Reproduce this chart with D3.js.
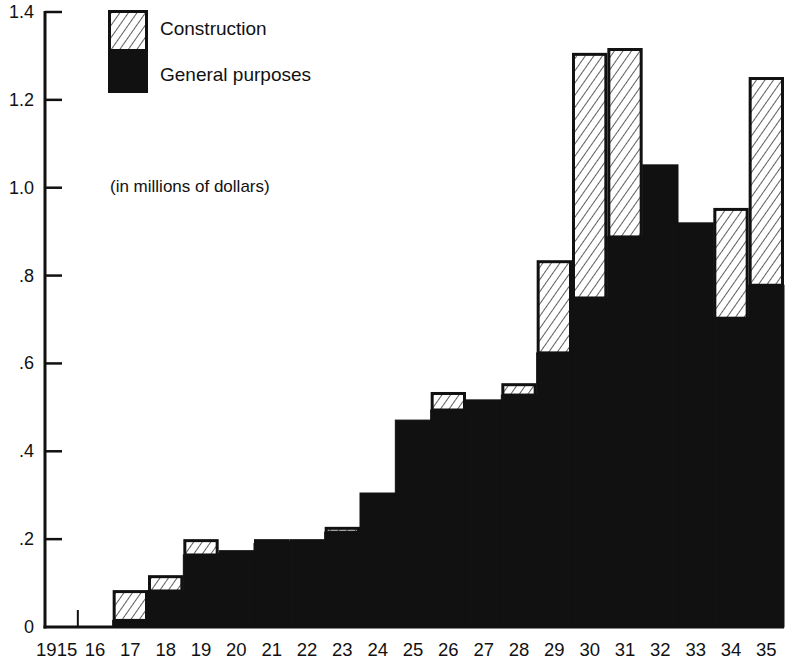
<!DOCTYPE html>
<html lang="en">
  <head>
    <meta charset="UTF-8" />
    <title>Chart</title>
    <style>
      body { margin: 0; background: #fff; }
      text { font-family: Arial, "Liberation Sans", sans-serif; fill: #111; }
    </style>
  </head>
  <body>
    <svg width="786" height="663"></svg>
    <script src="https://cdnjs.cloudflare.com/ajax/libs/d3/7.8.5/d3.min.js"></script>
    <script>
      // values, millions of dollars
      var years = [1915, 1916, 1917, 1918, 1919, 1920, 1921, 1922, 1923, 1924, 1925,
        1926, 1927, 1928, 1929, 1930, 1931, 1932, 1933, 1934, 1935];
      var yearLabels = ["1915", "16", "17", "18", "19", "20", "21", "22", "23", "24", "25",
        "26", "27", "28", "29", "30", "31", "32", "33", "34", "35"];
      var general = [0, 0, 0.015, 0.082, 0.164, 0.168, 0.19, 0.195, 0.216, 0.305, 0.471,
        0.494, 0.517, 0.528, 0.624, 0.749, 0.888, 1.052, 0.92, 0.703, 0.778];
      var construction = [0, 0, 0.069, 0.036, 0.036, 0.007, 0.01, 0.005, 0.012, 0, 0,
        0.041, 0, 0.027, 0.211, 0.558, 0.43, 0, 0, 0.251, 0.474];
      var yTicks = [0, 0.2, 0.4, 0.6, 0.8, 1.0, 1.2, 1.4];
      var yTickLabels = ["0", ".2", ".4", ".6", ".8", "1.0", "1.2", "1.4"];

      var svg = d3.select("svg");

      var x = d3.scaleBand().domain(years).range([42, 784]).padding(0);
      var y = d3.scaleLinear().domain([0, 1.4]).range([627, 12]);

      var defs = svg.append("defs");
      defs.append("pattern")
        .attr("id", "hatch")
        .attr("patternUnits", "userSpaceOnUse")
        .attr("width", 7)
        .attr("height", 7)
        .attr("patternTransform", "rotate(35)")
        .call(function (p) {
          p.append("rect").attr("width", 7).attr("height", 7).attr("fill", "#fff");
          p.append("line")
            .attr("x1", 0).attr("y1", 0).attr("x2", 0).attr("y2", 7)
            .attr("stroke", "#1a1a1a").attr("stroke-width", 1.4);
        });

      var data = years.map(function (yr, i) {
        return { year: yr, label: yearLabels[i], g: general[i], c: construction[i] };
      });

      var bars = svg.append("g");

      // general purposes (solid)
      bars.selectAll("rect.gen")
        .data(data.filter(function (d) { return d.g > 0; }))
        .enter()
        .append("rect")
        .attr("class", "gen")
        .attr("x", function (d) { return x(d.year); })
        .attr("width", x.bandwidth())
        .attr("y", function (d) { return y(d.g); })
        .attr("height", function (d) { return y(0) - y(d.g); })
        .attr("fill", "#111")
        .attr("stroke", "#111")
        .attr("stroke-width", 1);

      // construction (hatched, outlined)
      bars.selectAll("rect.con")
        .data(data.filter(function (d) { return d.c > 0; }))
        .enter()
        .append("rect")
        .attr("class", "con")
        .attr("x", function (d) { return x(d.year) + 1.5; })
        .attr("width", x.bandwidth() - 3)
        .attr("y", function (d) { return y(d.g + d.c) + 1.5; })
        .attr("height", function (d) { return Math.max(0.5, y(d.g) - y(d.g + d.c) - 1.5); })
        .attr("fill", "url(#hatch)")
        .attr("stroke", "#111")
        .attr("stroke-width", 3);

      // axes
      var axisX = 45;
      svg.append("line")
        .attr("x1", axisX).attr("x2", axisX)
        .attr("y1", y(1.4) - 1).attr("y2", y(0) + 1.5)
        .attr("stroke", "#111").attr("stroke-width", 3);
      svg.append("line")
        .attr("x1", axisX - 1.5).attr("x2", x(1935) + x.bandwidth())
        .attr("y1", y(0)).attr("y2", y(0))
        .attr("stroke", "#111").attr("stroke-width", 3);

      svg.selectAll("line.ytick")
        .data(yTicks.filter(function (t) { return t > 0; }))
        .enter()
        .append("line")
        .attr("class", "ytick")
        .attr("x1", axisX).attr("x2", axisX + 17)
        .attr("y1", function (d) { return y(d); })
        .attr("y2", function (d) { return y(d); })
        .attr("stroke", "#111").attr("stroke-width", 2.5);

      svg.selectAll("text.ylab")
        .data(yTicks)
        .enter()
        .append("text")
        .attr("class", "ylab")
        .attr("x", 34)
        .attr("y", function (d) { return y(d) + 6; })
        .attr("text-anchor", "end")
        .attr("font-size", 18)
        .text(function (d, i) { return yTickLabels[i]; });

      // the lone tick at the 1915/16 boundary
      svg.append("line")
        .attr("x1", x(1916) + 0.5).attr("x2", x(1916) + 0.5)
        .attr("y1", y(0)).attr("y2", y(0) - 17)
        .attr("stroke", "#111").attr("stroke-width", 2);

      svg.selectAll("text.xlab")
        .data(data)
        .enter()
        .append("text")
        .attr("class", "xlab")
        .attr("x", function (d) { return x(d.year) + x.bandwidth() / 2 - (d.year === 1915 ? 3 : 0); })
        .attr("y", 656)
        .attr("text-anchor", "middle")
        .attr("font-size", 18.5)
        .text(function (d) { return d.label; });

      // legend
      var lg = svg.append("g");
      lg.append("rect")
        .attr("x", 109).attr("y", 51).attr("width", 38).attr("height", 41)
        .attr("fill", "#111").attr("stroke", "#111").attr("stroke-width", 2);
      lg.append("rect")
        .attr("x", 109.5).attr("y", 11.5).attr("width", 37).attr("height", 39)
        .attr("fill", "url(#hatch)").attr("stroke", "#111").attr("stroke-width", 3);
      lg.append("text").attr("x", 160).attr("y", 35).attr("font-size", 19).text("Construction");
      lg.append("text").attr("x", 160).attr("y", 81).attr("font-size", 19).text("General purposes");

      svg.append("text")
        .attr("x", 110).attr("y", 192)
        .attr("font-size", 17)
        .text("(in millions of dollars)");
    </script>
  </body>
</html>
